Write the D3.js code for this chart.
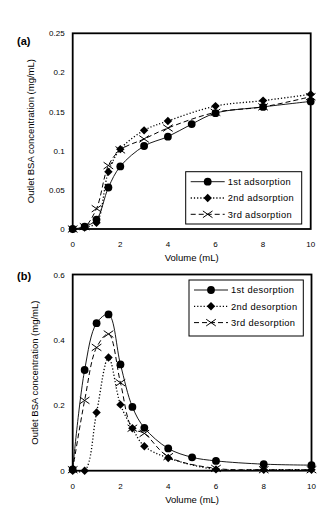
<!DOCTYPE html>
<html>
<head>
<meta charset="utf-8">
<script src="https://cdn.jsdelivr.net/npm/d3@7"></script>
<style>
  html, body { margin: 0; padding: 0; background: #fff; }
  svg { display: block; font-family: "Liberation Sans", "DejaVu Sans", sans-serif; }
  .tick-label { font-size: 8px; fill: #000; }
  .axis-title { font-size: 9.5px; fill: #000; }
  .legend-text { font-size: 9.3px; fill: #000; letter-spacing: 0.35px; }
  .panel-label { font-size: 11px; font-weight: bold; fill: #000; }
</style>
</head>
<body>
<svg id="chart" width="333" height="527"></svg>
<script>
// volumes (mL)
const volA = [0, 0.5, 1, 1.5, 2, 3, 4, 5, 6, 8, 10];
const volA2 = [0, 0.5, 1, 1.5, 2, 3, 4, 6, 8, 10];
const volB = [0, 0.5, 1, 1.5, 2, 2.5, 3, 4, 5, 6, 8, 10];
const volB2 = [0, 0.5, 1, 1.5, 2, 2.5, 3, 4, 6, 8, 10];

// (a) adsorption, mg/mL
const ads1 = [0, 0.003, 0.012, 0.053, 0.080, 0.106, 0.118, 0.134, 0.148, 0.156, 0.163];
const ads2 = [0, 0.002, 0.008, 0.073, 0.102, 0.126, 0.138, 0.157, 0.164, 0.172];
const ads3 = [0, 0.003, 0.026, 0.081, 0.101, 0.115, 0.129, 0.149, 0.156, 0.169];

// (b) desorption, mg/mL
const des1 = [0.004, 0.308, 0.451, 0.478, 0.325, 0.195, 0.131, 0.068, 0.041, 0.030, 0.020, 0.017];
const des2 = [0, 0, 0.178, 0.346, 0.202, 0.130, 0.075, 0.039, 0.004, 0.003, 0.003];
const des3 = [0.003, 0.215, 0.377, 0.418, 0.269, 0.130, 0.114, 0.043, 0.007, 0.003, 0.003];

const xTicks = [0, 2, 4, 6, 8, 10];
const yTicksA = [0, 0.05, 0.1, 0.15, 0.2, 0.25];
const yTicksB = [0, 0.2, 0.4, 0.6];

const svg = d3.select("#chart");

const styles = [
  { marker: "circle", dash: null, width: 0.9 },
  { marker: "diamond", dash: "1.2,2", width: 1.3 },
  { marker: "cross", dash: "5,3", width: 1 },
];

function drawMarker(sel, type, x, y) {
  if (type === "circle") {
    sel.append("circle").attr("cx", x).attr("cy", y).attr("r", 3.9).attr("fill", "#000");
  } else if (type === "diamond") {
    const s = 4.2;
    sel.append("path")
      .attr("d", `M${x},${y - s}L${x + s},${y}L${x},${y + s}L${x - s},${y}Z`)
      .attr("fill", "#000");
  } else {
    const s = 4.8;
    sel.append("path")
      .attr("d", `M${x - s},${y - s * 0.7}L${x + s},${y + s * 0.7}M${x - s},${y + s * 0.7}L${x + s},${y - s * 0.7}`)
      .attr("stroke", "#000").attr("stroke-width", 1).attr("fill", "none");
  }
}

function panel(opts) {
  const { box, yMax, yTicks, series, names, legendBox, label, titleX } = opts;
  const x = d3.scaleLinear().domain([0, 10]).range([box.left, box.right]);
  const y = d3.scaleLinear().domain([0, yMax]).range([box.bottom, box.top]);
  const g = svg.append("g");

  const line = d3.line().x((d) => x(d[0])).y((d) => y(d[1])).curve(d3.curveCatmullRom.alpha(0.5));

  series.forEach((s, i) => {
    const pts = s.vol.map((v, j) => [v, s.val[j]]);
    g.append("path").datum(pts)
      .attr("d", line)
      .attr("fill", "none").attr("stroke", "#000")
      .attr("stroke-width", styles[i].width)
      .attr("stroke-dasharray", styles[i].dash);
  });
  series.forEach((s, i) => {
    const mg = g.append("g");
    s.vol.forEach((v, j) => drawMarker(mg, styles[i].marker, x(v), y(s.val[j])));
  });

  // frame
  g.append("rect")
    .attr("x", box.left).attr("y", box.top)
    .attr("width", box.right - box.left).attr("height", box.bottom - box.top)
    .attr("fill", "none").attr("stroke", "#000").attr("stroke-width", 1.8);

  // tick labels
  g.selectAll("text.xt").data(xTicks).join("text")
    .attr("class", "tick-label xt")
    .attr("x", (d) => x(d)).attr("y", box.bottom + 18)
    .attr("text-anchor", "middle").text((d) => d);
  g.selectAll("text.yt").data(yTicks).join("text")
    .attr("class", "tick-label yt")
    .attr("x", box.left - 8).attr("y", (d) => y(d) + 3)
    .attr("text-anchor", "end").text((d) => d3.format("")(d));

  g.append("text").attr("class", "axis-title")
    .attr("x", (box.left + box.right) / 2).attr("y", box.bottom + 32)
    .attr("text-anchor", "middle").text("Volume (mL)");
  g.append("text").attr("class", "axis-title")
    .attr("transform", `translate(${titleX},${(box.top + box.bottom) / 2}) rotate(-90)`)
    .attr("text-anchor", "middle").text("Outlet BSA concentration (mg/mL)");

  g.append("text").attr("class", "panel-label")
    .attr("x", label.x).attr("y", label.y).text(label.text);

  // legend
  const lg = g.append("g");
  lg.append("rect")
    .attr("x", legendBox.x).attr("y", legendBox.y)
    .attr("width", legendBox.w).attr("height", legendBox.h)
    .attr("fill", "#fff").attr("stroke", "#000").attr("stroke-width", 1);
  names.forEach((n, i) => {
    const cy = legendBox.y + 10 + i * 16.3;
    const x0 = legendBox.x + 5, x1 = legendBox.x + 39;
    lg.append("line").attr("x1", x0).attr("x2", x1).attr("y1", cy).attr("y2", cy)
      .attr("stroke", "#000").attr("stroke-width", styles[i].width)
      .attr("stroke-dasharray", styles[i].dash);
    drawMarker(lg, styles[i].marker, (x0 + x1) / 2, cy);
    lg.append("text").attr("class", "legend-text")
      .attr("x", x1 + 3).attr("y", cy + 3.3).text(n);
  });
}

panel({
  box: { left: 72.7, right: 310.7, top: 33.3, bottom: 229 },
  yMax: 0.25, yTicks: yTicksA,
  series: [
    { vol: volA, val: ads1 },
    { vol: volA2, val: ads2 },
    { vol: volA2, val: ads3 },
  ],
  names: ["1st adsorption", "2nd adsorption", "3rd adsorption"],
  legendBox: { x: 185.7, y: 171.7, w: 116, h: 52.3 },
  label: { x: 17, y: 45, text: "(a)" },
  titleX: 34,
});

panel({
  box: { left: 72.7, right: 311.5, top: 274.5, bottom: 470.7 },
  yMax: 0.6, yTicks: yTicksB,
  series: [
    { vol: volB, val: des1 },
    { vol: volB2, val: des2 },
    { vol: volB2, val: des3 },
  ],
  names: ["1st desorption", "2nd desorption", "3rd desorption"],
  legendBox: { x: 189, y: 280, w: 114.3, h: 56 },
  label: { x: 17, y: 280, text: "(b)" },
  titleX: 38,
});
</script>
</body>
</html>
